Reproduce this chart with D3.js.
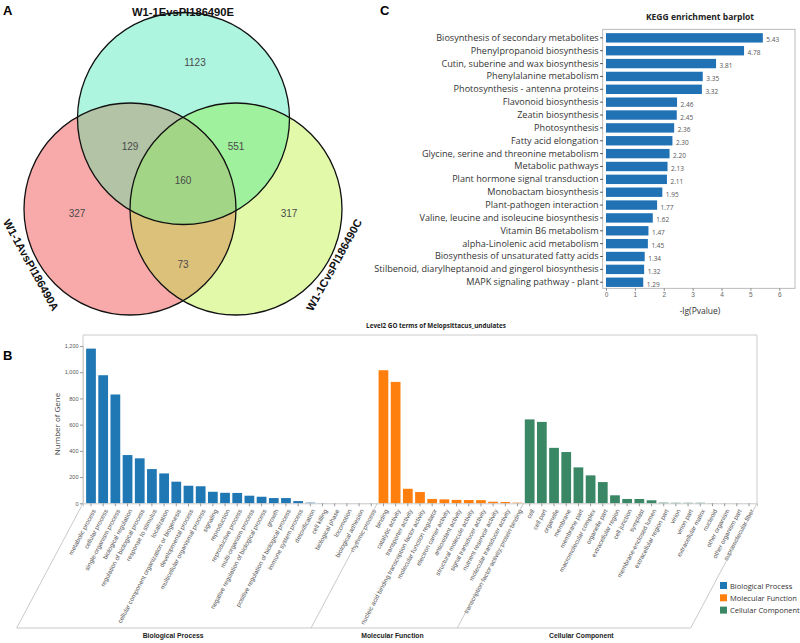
<!DOCTYPE html>
<html>
<head>
<meta charset="utf-8">
<script src="https://cdn.jsdelivr.net/npm/d3@7"></script>
<style>
    body { margin: 0; background: #fff; }
    svg { display: block; font-family: "Open Sans", "Noto Sans", sans-serif; }
</style>
</head>
<body>
<div id="chart"></div>
<script>
// ---- Venn (panel A) ----
var vennSets = ["W1-1EvsPI186490E", "W1-1AvsPI186490A", "W1-1CvsPI186490C"];
var vennCounts = [1123, 327, 317, 129, 551, 73, 160]; // E, A, C, EA, EC, AC, EAC

// ---- KEGG (panel C) ----
var keggPathways = [
    "Biosynthesis of secondary metabolites",
    "Phenylpropanoid biosynthesis",
    "Cutin, suberine and wax biosynthesis",
    "Phenylalanine metabolism",
    "Photosynthesis - antenna proteins",
    "Flavonoid biosynthesis",
    "Zeatin biosynthesis",
    "Photosynthesis",
    "Fatty acid elongation",
    "Glycine, serine and threonine metabolism",
    "Metabolic pathways",
    "Plant hormone signal transduction",
    "Monobactam biosynthesis",
    "Plant-pathogen interaction",
    "Valine, leucine and isoleucine biosynthesis",
    "Vitamin B6 metabolism",
    "alpha-Linolenic acid metabolism",
    "Biosynthesis of unsaturated fatty acids",
    "Stilbenoid, diarylheptanoid and gingerol biosynthesis",
    "MAPK signaling pathway - plant"
];
var keggValues = [5.43, 4.78, 3.81, 3.35, 3.32, 2.46, 2.45, 2.36, 2.30, 2.20,
                  2.13, 2.11, 1.95, 1.77, 1.62, 1.47, 1.45, 1.34, 1.32, 1.29];
var keggTicks = [0, 1, 2, 3, 4, 5, 6];

// ---- GO level 2 (panel B) ----
var goGroups = ["Biological Process", "Molecular Function", "Cellular Component"];
var bpTerms = ["metabolic process", "cellular process", "single-organism process", "biological regulation",
    "regulation of biological process", "response to stimulus", "localization",
    "cellular component organization or biogenesis", "developmental process",
    "multicellular organismal process", "signaling", "reproduction", "reproductive process",
    "multi-organism process", "negative regulation of biological process", "growth",
    "positive regulation of biological process", "immune system process", "detoxification",
    "cell killing", "biological phase", "locomotion", "biological adhesion", "rhythmic process"];
var bpValues = [1180, 977, 830, 368, 343, 261, 228, 165, 134, 130, 88, 80, 79, 58, 50, 40, 40, 17, 5,
    2, 1, 1, 1, 1];
var mfTerms = ["binding", "catalytic activity", "transporter activity",
    "nucleic acid binding transcription factor activity", "molecular function regulator",
    "electron carrier activity", "antioxidant activity", "structural molecule activity",
    "signal transducer activity", "nutrient reservoir activity", "molecular transducer activity",
    "transcription factor activity, protein binding"];
var mfValues = [1015, 926, 111, 86, 33, 30, 26, 25, 24, 12, 10, 5];
var ccTerms = ["cell", "cell part", "organelle", "membrane", "membrane part", "macromolecular complex",
    "organelle part", "extracellular region", "cell junction", "symplast", "membrane-enclosed lumen",
    "extracellular region part", "virion", "virion part", "extracellular matrix", "nucleoid",
    "other organism", "other organism part", "supramolecular fiber"];
var ccValues = [640, 621, 423, 391, 274, 213, 162, 61, 33, 33, 23, 5, 4, 4, 4, 2, 1, 1, 1];
var goColors = ["#1f77b4", "#ff7f0e", "#3a8766"];
var goYTicks = [0, 200, 400, 600, 800, 1000, 1200];

var svg = d3.select("#chart").append("svg")
    .attr("width", 800)
    .attr("height", 643);

// panel letters
svg.append("text").attr("x", 3).attr("y", 15).text("A")
    .style("font-family", "Liberation Sans, Arial").style("font-weight", "bold").style("font-size", "13px");
svg.append("text").attr("x", 380).attr("y", 15).text("C")
    .style("font-family", "Liberation Sans, Arial").style("font-weight", "bold").style("font-size", "13px");
svg.append("text").attr("x", 3).attr("y", 360).text("B")
    .style("font-family", "Liberation Sans, Arial").style("font-weight", "bold").style("font-size", "13px");

/* ================= Venn ================= */
function drawVenn() {
    var r = 106;
    var circles = [
        {id: "cE", cx: 183.5, cy: 118.5, fill: "#aef5df"},
        {id: "cA", cx: 130, cy: 209, fill: "#f8a9a9"},
        {id: "cC", cx: 236, cy: 209, fill: "#e2f9aa"}
    ];
    var defs = svg.append("defs");
    circles.forEach(function (c) {
        defs.append("clipPath").attr("id", "clip-" + c.id)
            .append("circle").attr("cx", c.cx).attr("cy", c.cy).attr("r", r);
    });

    var g = svg.append("g");
    // single sets
    g.selectAll("circle.base")
        .data(circles)
        .enter().append("circle")
        .attr("class", "base")
        .attr("cx", function (d) { return d.cx; })
        .attr("cy", function (d) { return d.cy; })
        .attr("r", r)
        .attr("fill", function (d) { return d.fill; });

    // pairwise overlaps
    function overlap(a, b, color) {
        g.append("g").attr("clip-path", "url(#clip-" + circles[a].id + ")")
            .append("circle")
            .attr("cx", circles[b].cx).attr("cy", circles[b].cy).attr("r", r)
            .attr("fill", color);
    }
    overlap(0, 1, "#b2c3a6");
    overlap(0, 2, "#9ff19d");
    overlap(1, 2, "#dcc17b");
    // triple
    g.append("g").attr("clip-path", "url(#clip-cE)")
        .append("g").attr("clip-path", "url(#clip-cA)")
        .append("circle")
        .attr("cx", circles[2].cx).attr("cy", circles[2].cy).attr("r", r)
        .attr("fill", "#a2d686");

    g.selectAll("circle.outline")
        .data(circles)
        .enter().append("circle")
        .attr("class", "outline")
        .attr("cx", function (d) { return d.cx; })
        .attr("cy", function (d) { return d.cy; })
        .attr("r", r)
        .attr("fill", "none")
        .attr("stroke", "#111")
        .attr("stroke-width", 1.3);

    var countPos = [[195, 62], [77, 213], [289, 213], [130, 146], [236, 146], [183, 264], [183, 180]];
    g.selectAll("text.count")
        .data(vennCounts)
        .enter().append("text")
        .attr("class", "count")
        .attr("x", function (d, i) { return countPos[i][0]; })
        .attr("y", function (d, i) { return countPos[i][1] + 4; })
        .attr("text-anchor", "middle")
        .style("font-family", "Liberation Sans, Arial")
        .style("font-size", "10px")
        .attr("fill", "#4a4a4a")
        .text(function (d) { return d; });

    var labelPos = [[183, 12, 0], [31, 265, 61], [334, 265, -61]];
    g.selectAll("text.set")
        .data(vennSets)
        .enter().append("text")
        .attr("class", "set")
        .attr("text-anchor", "middle")
        .attr("transform", function (d, i) {
            return "translate(" + labelPos[i][0] + "," + labelPos[i][1] + ") rotate(" + labelPos[i][2] + ")";
        })
        .attr("dy", "0.35em")
        .style("font-family", "Liberation Sans, Arial")
        .style("font-weight", "bold")
        .style("font-size", "11.2px")
        .attr("fill", "#111")
        .text(function (d) { return d; });
}

/* ================= KEGG barplot ================= */
function drawKegg() {
    var frame = {left: 602.7, right: 795, top: 29.3, bottom: 288.3};
    var x = d3.scaleLinear().domain([0, 6]).range([606, 779.3]);
    var y = d3.scaleBand().domain(keggPathways)
        .range([frame.top, frame.bottom + 2.5])
        .paddingInner(0.27).paddingOuter(0.3);

    var g = svg.append("g");
    g.append("text")
        .attr("x", 700).attr("y", 20)
        .attr("text-anchor", "middle")
        .style("font-weight", "bold").style("font-size", "8.5px")
        .attr("fill", "#222")
        .text("KEGG enrichment barplot");

    g.append("rect")
        .attr("x", frame.left).attr("y", frame.top)
        .attr("width", frame.right - frame.left).attr("height", frame.bottom - frame.top)
        .attr("fill", "none").attr("stroke", "#aaa").attr("stroke-width", 0.8);

    g.selectAll("rect.bar")
        .data(keggValues)
        .enter().append("rect")
        .attr("class", "bar")
        .attr("x", x(0))
        .attr("y", function (d, i) { return y(keggPathways[i]); })
        .attr("width", function (d) { return x(d) - x(0); })
        .attr("height", y.bandwidth())
        .attr("fill", "#2171b5");

    g.selectAll("text.val")
        .data(keggValues)
        .enter().append("text")
        .attr("class", "val")
        .attr("x", function (d) { return x(d) + 3.5; })
        .attr("y", function (d, i) { return y(keggPathways[i]) + y.bandwidth() / 2 + 4.5; })
        .style("font-size", "6.5px")
        .attr("fill", "#555")
        .text(function (d) { return d.toFixed(2); });

    var yAxis = g.append("g")
        .attr("transform", "translate(" + frame.left + ",0)")
        .call(d3.axisLeft(y).tickSize(2.5).tickPadding(1.5));
    yAxis.select(".domain").remove();
    yAxis.selectAll("line").attr("stroke", "#444");
    yAxis.selectAll("text")
        .style("font-family", "Open Sans, sans-serif")
        .style("font-size", "9.1px")
        .attr("fill", "#333");

    var xAxis = g.append("g")
        .attr("transform", "translate(0," + frame.bottom + ")")
        .call(d3.axisBottom(x).tickValues(keggTicks).tickFormat(d3.format("d")).tickSize(2.5).tickPadding(2));
    xAxis.select(".domain").remove();
    xAxis.selectAll("line").attr("stroke", "#888");
    xAxis.selectAll("text").style("font-size", "6.5px").attr("fill", "#666");

    g.append("text")
        .attr("x", 700).attr("y", 314)
        .attr("text-anchor", "middle")
        .style("font-size", "8.5px")
        .attr("fill", "#333")
        .text("-lg(Pvalue)");
}

/* ================= GO level 2 barplot ================= */
function drawGO() {
    var left = 83, right = 757, top = 335, base = 503.3;
    var angle = 62;
    var rows = [];
    [[bpTerms, bpValues], [mfTerms, mfValues], [ccTerms, ccValues]].forEach(function (grp, gi) {
        for (var i = 0; i < grp[0].length; i++) {
            rows.push({term: grp[0][i], value: grp[1][i], group: gi});
        }
    });

    var x = d3.scaleBand().domain(rows.map(function (d) { return d.term; }))
        .range([left, right]).paddingInner(0.2).paddingOuter(0.256);
    var y = d3.scaleLinear().domain([0, 1200]).range([base, 346]);

    var g = svg.append("g");
    g.append("text")
        .attr("x", 436).attr("y", 327.5)
        .attr("text-anchor", "middle")
        .style("font-weight", "bold").style("font-size", "6.3px")
        .attr("fill", "#222")
        .text("Level2 GO terms of Melopsittacus_undulates");

    // light frame
    g.append("path")
        .attr("d", "M" + left + "," + base + "V" + top + "H" + right + "V" + base)
        .attr("fill", "none").attr("stroke", "#ccc").attr("stroke-width", 1);

    g.selectAll("rect.bar")
        .data(rows)
        .enter().append("rect")
        .attr("class", "bar")
        .attr("x", function (d) { return x(d.term); })
        .attr("y", function (d) { return y(d.value); })
        .attr("width", x.bandwidth())
        .attr("height", function (d) { return base - y(d.value); })
        .attr("fill", function (d) { return goColors[d.group]; });

    var yAxis = g.append("g")
        .attr("transform", "translate(" + left + ",0)")
        .call(d3.axisLeft(y).tickValues(goYTicks).tickFormat(d3.format(",")).tickSize(3).tickPadding(1.5));
    yAxis.select(".domain").attr("stroke", "#ccc");
    yAxis.selectAll("line").attr("stroke", "#999");
    yAxis.selectAll("text").style("font-size", "5.5px").attr("fill", "#555");

    g.append("text")
        .attr("transform", "translate(60,424) rotate(-90)")
        .attr("text-anchor", "middle")
        .style("font-size", "8px")
        .attr("fill", "#444")
        .text("Number of Gene");

    var xAxis = g.append("g")
        .attr("transform", "translate(0," + base + ")")
        .call(d3.axisBottom(x).tickSize(3).tickPadding(1));
    xAxis.select(".domain").attr("stroke", "#ccc");
    xAxis.selectAll("line").attr("stroke", "#999");
    xAxis.selectAll("text")
        .attr("text-anchor", "end")
        .attr("dy", 0)
        .attr("transform", "translate(1.5,5.5) rotate(" + (-angle) + ")")
        .style("font-size", "6.3px")
        .attr("fill", "#555");

    // group separators: slanted lines and bottom bar
    var bottomY = 628;
    var dxSlant = (bottomY - base) / Math.tan(angle * Math.PI / 180);
    var step = x.step();
    var bounds = [left];
    var starts = [0, bpTerms.length, bpTerms.length + mfTerms.length, rows.length];
    bounds.push(x(rows[starts[1]].term) + x.bandwidth() / 2 - step / 2);
    bounds.push(x(rows[starts[2]].term) + x.bandwidth() / 2 - step / 2);
    bounds.push(right);

    g.selectAll("line.sep")
        .data(bounds)
        .enter().append("line")
        .attr("class", "sep")
        .attr("x1", function (d) { return d; })
        .attr("y1", base)
        .attr("x2", function (d) { return d - dxSlant; })
        .attr("y2", bottomY)
        .attr("stroke", "#bbb").attr("stroke-width", 0.8);
    g.append("line")
        .attr("x1", bounds[0] - dxSlant).attr("y1", bottomY)
        .attr("x2", bounds[3] - dxSlant).attr("y2", bottomY)
        .attr("stroke", "#bbb").attr("stroke-width", 0.8);

    g.selectAll("text.grp")
        .data(goGroups)
        .enter().append("text")
        .attr("class", "grp")
        .attr("x", function (d, i) {
            var a = x(rows[starts[i]].term), b = x(rows[starts[i + 1] - 1].term);
            return (a + b) / 2 + x.bandwidth() / 2 - 58;
        })
        .attr("y", 638)
        .attr("text-anchor", "middle")
        .style("font-family", "Liberation Sans, Arial")
        .style("font-weight", "bold").style("font-size", "6.8px")
        .attr("fill", "#222")
        .text(function (d) { return d; });

    // legend
    var legend = g.selectAll("g.leg")
        .data(goGroups)
        .enter().append("g")
        .attr("class", "leg")
        .attr("transform", function (d, i) { return "translate(720," + (582 + i * 12.3) + ")"; });
    legend.append("rect")
        .attr("width", 7).attr("height", 7)
        .attr("fill", function (d, i) { return goColors[i]; });
    legend.append("text")
        .attr("x", 10).attr("y", 6.5)
        .style("font-size", "7.5px")
        .attr("fill", "#333")
        .text(function (d) { return d; });
}

drawVenn();
drawKegg();
drawGO();
</script>
</body>
</html>
